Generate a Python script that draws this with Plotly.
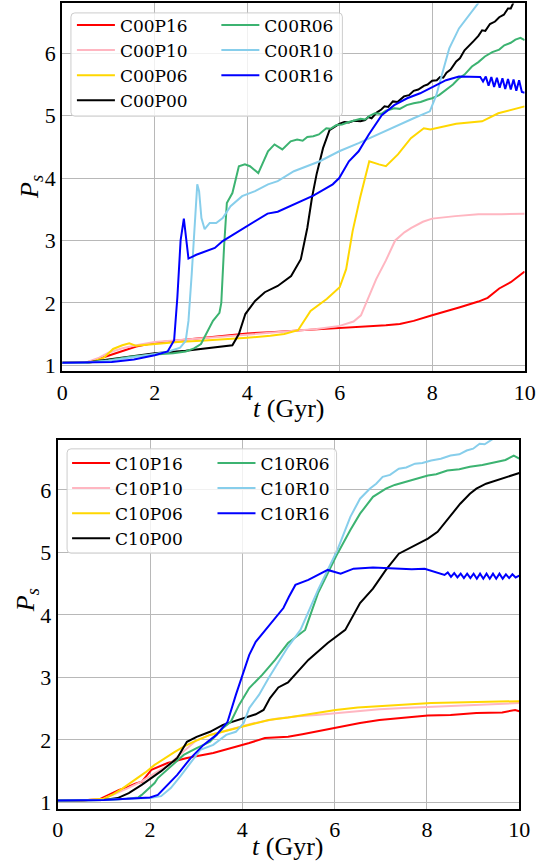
import plotly.graph_objects as go

W, H = 556, 867

# ---- C00 runs (upper panel) ----
t_c00p16 = [0, 0.5, 0.7, 1.0, 1.3, 1.6, 2.0, 2.5, 3.0, 3.5, 4.0, 4.5, 5.0, 5.5, 6.0, 6.5, 7.0, 7.3, 7.6, 8.0, 8.3, 8.6, 9.0, 9.2, 9.45, 9.7, 10.0]
p_c00p16 = [1.04, 1.04, 1.08, 1.15, 1.22, 1.30, 1.36, 1.40, 1.43, 1.47, 1.51, 1.53, 1.55, 1.57, 1.60, 1.62, 1.64, 1.66, 1.71, 1.80, 1.86, 1.93, 2.02, 2.08, 2.23, 2.33, 2.50]

t_c00p10 = [0, 0.5, 0.8, 1.0, 1.3, 1.6, 2.0, 2.5, 3.0, 3.5, 4.0, 4.5, 5.0, 5.5, 6.0, 6.3, 6.46, 6.65, 6.79, 7.0, 7.2, 7.4, 7.55, 7.8, 8.0, 8.5, 9.0, 9.5, 10.0]
p_c00p10 = [1.04, 1.04, 1.12, 1.20, 1.27, 1.32, 1.37, 1.40, 1.43, 1.46, 1.49, 1.52, 1.55, 1.58, 1.63, 1.70, 1.80, 2.14, 2.38, 2.68, 3.00, 3.13, 3.20, 3.30, 3.35, 3.39, 3.42, 3.42, 3.43]

t_c00p06 = [0, 0.6, 0.9, 1.1, 1.3, 1.45, 1.6, 2.0, 2.5, 3.0, 3.5, 4.0, 4.5, 4.8, 5.1, 5.37, 5.72, 6.0, 6.14, 6.28, 6.44, 6.64, 6.85, 7.0, 7.26, 7.54, 7.82, 7.96, 8.52, 9.08, 9.43, 10.0]
p_c00p06 = [1.04, 1.04, 1.12, 1.26, 1.32, 1.35, 1.31, 1.34, 1.37, 1.39, 1.41, 1.44, 1.47, 1.50, 1.56, 1.87, 2.06, 2.25, 2.54, 3.15, 3.68, 4.27, 4.22, 4.19, 4.38, 4.64, 4.80, 4.78, 4.87, 4.91, 5.04, 5.15]

t_c00p00 = [0, 0.5, 0.8, 1.2, 1.55, 2.0, 2.67, 3.0, 3.4, 3.68, 3.82, 3.96, 4.17, 4.38, 4.66, 4.95, 5.16, 5.3, 5.4, 5.5, 5.64, 5.78, 5.99,
            6.1, 6.2, 6.3, 6.45, 6.55, 6.62, 6.69, 6.8, 6.9, 6.97, 7.05, 7.15, 7.25, 7.39, 7.5, 7.6, 7.7, 7.82, 7.9, 8.0, 8.1, 8.17, 8.24,
            8.31, 8.4, 8.52, 8.6, 8.7, 8.8, 8.9, 9.0, 9.08, 9.15, 9.25, 9.36, 9.45, 9.55, 9.64, 9.7, 9.78, 9.85, 10.0]
p_c00p00 = [1.04, 1.04, 1.07, 1.11, 1.15, 1.19, 1.23, 1.26, 1.29, 1.32, 1.50, 1.82, 2.03, 2.17, 2.27, 2.43, 2.70, 3.20, 3.68, 4.06, 4.48, 4.77, 4.87,
            4.90, 4.89, 4.92, 4.91, 4.93, 4.98, 4.96, 5.05, 5.10, 5.15, 5.14, 5.23, 5.22, 5.31, 5.33, 5.40, 5.42, 5.48, 5.50, 5.56, 5.57, 5.62, 5.61,
            5.69, 5.74, 5.87, 5.92, 6.05, 6.12, 6.20, 6.28, 6.37, 6.36, 6.47, 6.51, 6.58, 6.62, 6.72, 6.72, 6.85, 6.86, 7.00]

t_c00r06 = [0, 0.5, 1.0, 1.5, 2.0, 2.4, 2.67, 2.85, 3.0, 3.12, 3.26, 3.4, 3.44, 3.5, 3.56, 3.68, 3.82, 3.95, 4.06, 4.24, 4.45, 4.59, 4.76,
            4.94, 5.08, 5.2, 5.3, 5.43, 5.55, 5.71, 5.8, 5.93, 6.05, 6.2, 6.3, 6.45, 6.55, 6.65, 6.76, 6.9, 7.0, 7.18, 7.3, 7.45, 7.6, 7.75,
            7.9, 8.0, 8.15, 8.3, 8.45, 8.58, 8.7, 8.86, 9.0, 9.14, 9.3, 9.45, 9.56, 9.7, 9.8, 9.91, 10.0]
p_c00r06 = [1.04, 1.04, 1.08, 1.14, 1.17, 1.19, 1.22, 1.27, 1.34, 1.50, 1.71, 1.84, 2.00, 2.90, 3.60, 3.76, 4.19, 4.22, 4.19, 4.08, 4.43, 4.54, 4.46,
            4.59, 4.62, 4.60, 4.66, 4.67, 4.70, 4.80, 4.79, 4.85, 4.86, 4.90, 4.92, 4.95, 4.94, 5.00, 5.04, 5.03, 5.08, 5.12, 5.11, 5.17, 5.20, 5.22,
            5.26, 5.28, 5.33, 5.41, 5.50, 5.60, 5.66, 5.79, 5.86, 5.95, 6.02, 6.06, 6.13, 6.17, 6.22, 6.25, 6.21]

t_c00r10 = [0, 0.5, 1.0, 1.5, 2.0, 2.3, 2.55, 2.67, 2.73, 2.8, 2.87, 2.92, 2.96, 3.01, 3.08, 3.19, 3.33, 3.47, 3.64, 3.89, 4.17, 4.45, 4.66, 5.01, 5.57, 5.99, 6.41, 6.76, 7.2, 7.6, 7.95, 8.09, 8.23, 8.37, 8.58, 8.86, 9.07, 9.3]
p_c00r10 = [1.04, 1.04, 1.07, 1.12, 1.18, 1.22, 1.28, 1.39, 1.71, 2.46, 3.42, 3.90, 3.79, 3.36, 3.18, 3.28, 3.28, 3.36, 3.55, 3.71, 3.79, 3.90, 3.95, 4.11, 4.27, 4.43, 4.56, 4.68, 4.83, 4.96, 5.07, 5.33, 5.71, 6.08, 6.40, 6.67, 6.88, 7.10]

t_c00r16 = [0, 0.5, 1.07, 1.55, 2.0, 2.28, 2.42, 2.49, 2.56, 2.63, 2.68, 2.73, 2.9, 3.12, 3.3, 3.47, 3.75, 4.1, 4.44, 4.66, 5.01, 5.43, 5.85, 5.99, 6.2, 6.41, 6.63, 6.91, 7.18, 7.46, 7.74, 8.02, 8.3, 8.58, 8.86, 9.04, 9.10, 9.16, 9.22, 9.28, 9.34, 9.40, 9.46, 9.52, 9.58, 9.64, 9.70, 9.76, 9.82, 9.88, 9.94, 10.0]
p_c00r16 = [1.04, 1.04, 1.05, 1.09, 1.16, 1.22, 1.40, 2.09, 3.00, 3.35, 3.05, 2.71, 2.77, 2.83, 2.88, 2.99, 3.12, 3.28, 3.43, 3.46, 3.58, 3.72, 3.90, 4.00, 4.27, 4.43, 4.70, 5.01, 5.17, 5.28, 5.36, 5.47, 5.57, 5.63, 5.63, 5.62, 5.55, 5.63, 5.48, 5.62, 5.46, 5.61, 5.45, 5.60, 5.43, 5.59, 5.42, 5.58, 5.40, 5.57, 5.38, 5.37]

# ---- C10 runs (lower panel) ----
t_c10p16 = [0, 0.5, 0.9, 1.1, 1.33, 1.5, 1.68, 1.82, 2.03, 2.38, 2.8, 3.37, 3.79, 4.15, 4.49, 4.99, 5.3, 5.57, 6.02, 6.55, 6.97, 7.53, 8.02, 8.51, 9.07, 9.63, 9.91, 10.0]
p_c10p16 = [1.03, 1.03, 1.05, 1.12, 1.20, 1.24, 1.30, 1.33, 1.52, 1.63, 1.71, 1.79, 1.87, 1.95, 2.03, 2.05, 2.09, 2.13, 2.20, 2.27, 2.32, 2.36, 2.39, 2.40, 2.43, 2.44, 2.48, 2.46]

t_c10p10 = [0, 0.5, 1.0, 1.2, 1.5, 1.8, 2.1, 2.4, 2.7, 3.0, 3.3, 3.6, 3.9, 4.2, 4.73, 5.2, 5.6, 6.02, 6.5, 6.97, 7.5, 8.09, 8.6, 9.07, 9.5, 9.98, 10.0]
p_c10p10 = [1.03, 1.03, 1.06, 1.12, 1.22, 1.33, 1.47, 1.60, 1.80, 1.99, 2.08, 2.14, 2.20, 2.26, 2.34, 2.38, 2.40, 2.43, 2.46, 2.49, 2.51, 2.53, 2.55, 2.56, 2.57, 2.59, 2.59]

t_c10p06 = [0, 0.5, 1.0, 1.2, 1.4, 1.68, 1.9, 2.1, 2.3, 2.52, 2.75, 2.94, 3.3, 3.72, 4.15, 4.57, 4.99, 5.5, 6.02, 6.5, 6.97, 7.5, 8.09, 8.6, 9.07, 9.5, 9.98, 10.0]
p_c10p06 = [1.03, 1.03, 1.06, 1.13, 1.22, 1.36, 1.48, 1.60, 1.70, 1.80, 1.90, 1.97, 2.08, 2.16, 2.24, 2.32, 2.36, 2.42, 2.48, 2.52, 2.54, 2.57, 2.59, 2.60, 2.61, 2.61, 2.62, 2.62]

t_c10p00 = [0, 0.5, 1.0, 1.3, 1.54, 1.82, 2.1, 2.24, 2.59, 2.8, 3.01, 3.3, 3.58, 3.93, 4.29, 4.46, 4.6, 4.78, 4.99, 5.43, 5.85, 6.23, 6.55, 6.83, 7.11, 7.39, 7.74, 8.02, 8.23, 8.44, 8.72, 8.93, 9.07, 9.28, 9.63, 9.98, 10.0]
p_c10p00 = [1.03, 1.03, 1.04, 1.07, 1.15, 1.28, 1.43, 1.50, 1.71, 1.97, 2.05, 2.13, 2.24, 2.32, 2.41, 2.48, 2.67, 2.84, 2.92, 3.28, 3.55, 3.76, 4.19, 4.42, 4.72, 4.98, 5.12, 5.22, 5.33, 5.52, 5.78, 5.94, 6.02, 6.10, 6.18, 6.27, 6.27]

t_c10r06 = [0, 0.5, 1.0, 1.5, 1.75, 1.82, 2.1, 2.17, 2.45, 2.73, 3.01, 3.3, 3.58, 3.75, 3.93, 4.15, 4.43, 4.71, 4.99, 5.36, 5.64, 6.06, 6.34, 6.55, 6.83,
            7.11, 7.3, 7.53, 7.75, 8.02, 8.2, 8.44, 8.7, 8.93, 9.2, 9.49, 9.7, 9.88, 10.0]
p_c10r06 = [1.03, 1.03, 1.04, 1.06, 1.08, 1.12, 1.31, 1.39, 1.58, 1.76, 1.87, 1.97, 2.19, 2.29, 2.56, 2.83, 3.04, 3.28, 3.55, 3.76, 4.35, 4.98, 5.36, 5.62, 5.89,
            6.02, 6.08, 6.13, 6.17, 6.23, 6.25, 6.31, 6.33, 6.37, 6.40, 6.45, 6.48, 6.55, 6.50]

t_c10r10 = [0, 0.5, 1.0, 1.5, 2.0, 2.24, 2.45, 2.66, 2.88, 3.09, 3.37, 3.65, 3.86, 4.03, 4.15, 4.36, 4.57, 4.78, 4.99, 5.26, 5.64, 6.06, 6.34, 6.55,
            6.76, 6.9, 7.04, 7.2, 7.39, 7.55, 7.74, 7.9, 8.09, 8.3, 8.51, 8.7, 8.86, 9.0, 9.14, 9.25, 9.4, 9.6]
p_c10r10 = [1.03, 1.03, 1.04, 1.06, 1.07, 1.10, 1.23, 1.42, 1.63, 1.84, 1.92, 2.08, 2.13, 2.27, 2.51, 2.72, 2.99, 3.25, 3.49, 3.76, 4.40, 5.04, 5.57, 5.86,
            6.02, 6.10, 6.21, 6.24, 6.34, 6.36, 6.42, 6.43, 6.47, 6.50, 6.55, 6.57, 6.63, 6.66, 6.74, 6.73, 6.80, 6.90]

t_c10r16 = [0, 0.5, 1.0, 1.5, 2.0, 2.17, 2.38, 2.59, 2.88, 3.16, 3.44, 3.68, 3.86, 4.01, 4.15, 4.29, 4.5, 4.71, 4.89, 5.01, 5.15, 5.43, 5.64, 5.85, 6.13, 6.41, 6.83, 7.25, 7.67, 7.95, 8.23, 8.38, 8.45, 8.52, 8.59, 8.66, 8.73, 8.80, 8.87, 8.94, 9.01, 9.08, 9.15, 9.22, 9.29, 9.36, 9.43, 9.50, 9.57, 9.64, 9.71, 9.78, 9.85, 9.92, 10.0]
p_c10r16 = [1.03, 1.03, 1.04, 1.06, 1.08, 1.12, 1.28, 1.44, 1.71, 1.92, 2.08, 2.29, 2.72, 3.04, 3.36, 3.57, 3.76, 3.95, 4.11, 4.29, 4.48, 4.56, 4.64, 4.72, 4.66, 4.74, 4.76, 4.74, 4.73, 4.74, 4.67, 4.64, 4.68, 4.61, 4.67, 4.60, 4.66, 4.59, 4.66, 4.59, 4.66, 4.58, 4.66, 4.58, 4.66, 4.58, 4.66, 4.58, 4.66, 4.58, 4.65, 4.59, 4.65, 4.60, 4.63]

x_ticks = [0, 2, 4, 6, 8, 10]
y_ticks = [1, 2, 3, 4, 5, 6]

colors = {"P16": "#ff0000", "P10": "#ffb6c1", "P06": "#ffd700", "P00": "#000000",
          "R06": "#3cb371", "R10": "#87ceeb", "R16": "#0000ff"}

top_runs = [("C00P16", t_c00p16, p_c00p16), ("C00P10", t_c00p10, p_c00p10),
            ("C00P06", t_c00p06, p_c00p06), ("C00P00", t_c00p00, p_c00p00),
            ("C00R06", t_c00r06, p_c00r06), ("C00R10", t_c00r10, p_c00r10),
            ("C00R16", t_c00r16, p_c00r16)]
bot_runs = [("C10P16", t_c10p16, p_c10p16), ("C10P10", t_c10p10, p_c10p10),
            ("C10P06", t_c10p06, p_c10p06), ("C10P00", t_c10p00, p_c10p00),
            ("C10R06", t_c10r06, p_c10r06), ("C10R10", t_c10r10, p_c10r10),
            ("C10R16", t_c10r16, p_c10r16)]

fig = go.Figure()
for runs, xa, ya, lg_left, lg_right in [(top_runs, "x", "y", "legend", "legend2"),
                                        (bot_runs, "x2", "y2", "legend3", "legend4")]:
    for name, t, p in runs:
        fig.add_trace(go.Scatter(
            x=t, y=p, mode="lines", name=name, xaxis=xa, yaxis=ya,
            line=dict(color=colors[name[3:]], width=2),
            legend=lg_left if name[3] == "P" else lg_right,
        ))

SERIF = "'Liberation Serif', 'DejaVu Serif', serif"
LEG_FONT = dict(family="'DejaVu Serif', serif", size=17, color="black")


def px_x(v):
    return v / W


def px_y(v):
    return 1 - v / H


def axis_common():
    return dict(showline=True, mirror=True, linecolor="black", linewidth=2,
                showgrid=True, gridcolor="#b8b8b8", gridwidth=1.3,
                zeroline=False, ticks="",
                tickfont=dict(family=SERIF, size=22, color="black"))


xa1 = axis_common(); xa1.update(domain=[px_x(58), px_x(535)], range=[0, 10], tickvals=x_ticks, anchor="y")
ya1 = axis_common(); ya1.update(domain=[px_y(374), px_y(3.5)], range=[0.9, 6.8], tickvals=y_ticks, anchor="x")
xa2 = axis_common(); xa2.update(domain=[px_x(53.3), px_x(529.5)], range=[0, 10], tickvals=x_ticks, anchor="y2")
ya2 = axis_common(); ya2.update(domain=[px_y(814.3), px_y(443)], range=[0.9, 6.8], tickvals=y_ticks, anchor="x2")


def legend_at(left, top):
    return dict(x=px_x(left), y=px_y(top), xanchor="left", yanchor="top",
                bgcolor="rgba(0,0,0,0)", borderwidth=0, font=LEG_FONT,
                itemwidth=38, tracegroupgap=0)


def rounded_box(x0, y0, x1, y1, r=4):
    # rounded rectangle in paper coordinates, given pixel corners
    rx, ry = r / W, r / H
    X0, X1 = px_x(x0), px_x(x1)
    Y0, Y1 = px_y(y0), px_y(y1)  # Y0 is the upper edge
    return (f"M{X0 + rx},{Y0} L{X1 - rx},{Y0} Q{X1},{Y0} {X1},{Y0 - ry} "
            f"L{X1},{Y1 + ry} Q{X1},{Y1} {X1 - rx},{Y1} "
            f"L{X0 + rx},{Y1} Q{X0},{Y1} {X0},{Y1 + ry} "
            f"L{X0},{Y0 - ry} Q{X0},{Y0} {X0 + rx},{Y0} Z")


shapes = [
    dict(type="path", xref="paper", yref="paper", layer="above",
         path=rounded_box(67, 13, 347, 117), fillcolor="rgba(255,255,255,0.8)",
         line=dict(color="#cccccc", width=1)),
    dict(type="path", xref="paper", yref="paper", layer="above",
         path=rounded_box(63, 452, 341, 557), fillcolor="rgba(255,255,255,0.8)",
         line=dict(color="#cccccc", width=1)),
]

TITLE_FONT = dict(family=SERIF, size=26, color="black")
annotations = [
    dict(text="<i>t</i> (Gyr)", x=px_x(292), y=px_y(411), xref="paper", yref="paper",
         showarrow=False, font=TITLE_FONT, xanchor="center", yanchor="middle"),
    dict(text="<i>t</i> (Gyr)", x=px_x(291), y=px_y(852), xref="paper", yref="paper",
         showarrow=False, font=TITLE_FONT, xanchor="center", yanchor="middle"),
    dict(text="<i>P</i><sub><i>s</i></sub>", x=px_x(25), y=px_y(188), xref="paper", yref="paper",
         showarrow=False, font=TITLE_FONT, textangle=-90, xanchor="center", yanchor="middle"),
    dict(text="<i>P</i><sub><i>s</i></sub>", x=px_x(21), y=px_y(604), xref="paper", yref="paper",
         showarrow=False, font=TITLE_FONT, textangle=-90, xanchor="center", yanchor="middle"),
]

fig.update_layout(
    width=W, height=H, margin=dict(l=0, r=0, t=0, b=0),
    paper_bgcolor="white", plot_bgcolor="white",
    xaxis=xa1, yaxis=ya1, xaxis2=xa2, yaxis2=ya2,
    legend=legend_at(68, 7.5), legend2=legend_at(217, 7.5),
    legend3=legend_at(63, 448.5), legend4=legend_at(213, 448.5),
    shapes=shapes, annotations=annotations, showlegend=True,
)

fig.write_html("out.html")
